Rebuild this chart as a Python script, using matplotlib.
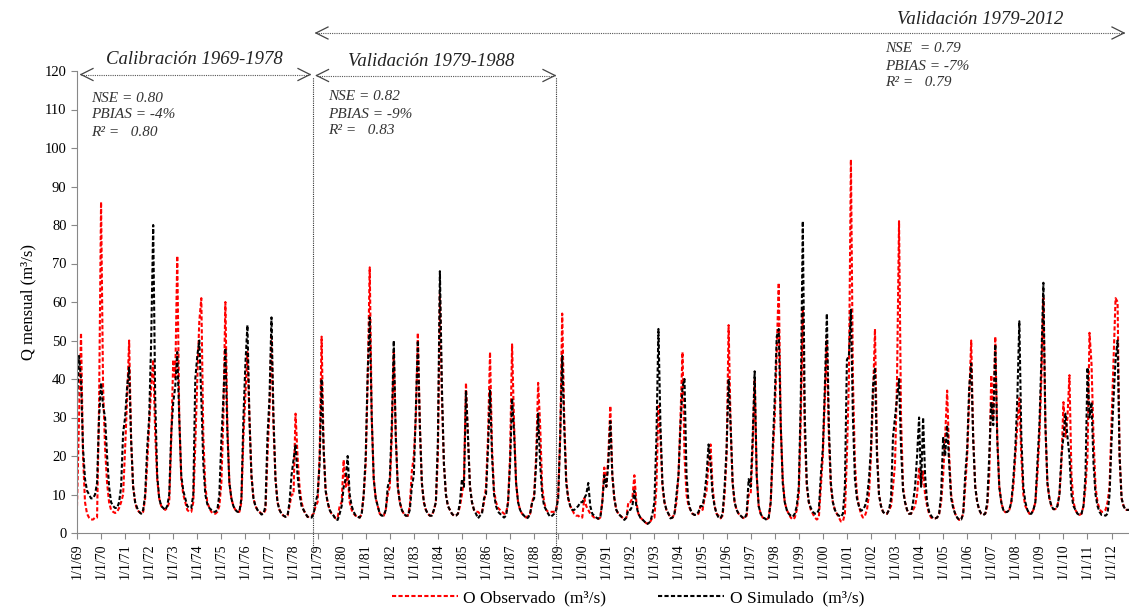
import numpy as np
import matplotlib
matplotlib.use("Agg")
import matplotlib.pyplot as plt
from matplotlib.lines import Line2D

# caudal mensual observado (m3/s), una fila por año, ene..dic
obs_1969_1978 = [
    7, 30, 52, 20, 8, 5, 4, 3.5, 3.5, 4, 4, 33,
    86, 38, 22, 13, 8, 6, 5.5, 5.2, 5.5, 6.5, 8, 10,
    22, 35, 50, 24, 12, 8, 6, 5.5, 5, 5.5, 9, 18,
    28, 38, 45, 26, 14, 9, 7, 6.5, 6, 6.5, 8, 24,
    45, 40, 72, 30, 14, 10, 8, 6, 5.5, 5.5, 8, 23,
    40, 55, 61, 25, 12, 8, 6.5, 5.5, 5, 5, 5.5, 7,
    13, 30, 60, 28, 13, 9, 7, 6, 5.5, 5.5, 8, 25,
    36, 47, 30, 15, 9, 7, 6, 5.5, 5, 5, 6, 20,
    32, 51, 28, 14, 8, 6, 5, 4.5, 4.2, 4.5, 7, 10,
    10, 31, 20, 12, 8, 6, 5, 4.2, 4.2, 4.5, 5, 7,
]
obs_1979_1988 = [
    8, 20, 51, 22, 11, 8, 6, 5, 4.5, 3.8, 4, 7,
    8, 19, 12, 15, 8, 6, 5, 4.5, 4.2, 4, 5, 10,
    18, 40, 69, 30, 14, 9, 7, 5, 4.5, 4.5, 6, 10,
    12, 25, 47, 25, 12, 8, 6, 5, 4.5, 4.5, 7, 16,
    20, 30, 52, 28, 13, 8, 6, 5, 4.5, 4.5, 6, 8,
    20, 62, 35, 18, 10, 7, 6, 5, 4.5, 4.5, 5, 7,
    10, 14, 39, 25, 12, 8, 6, 5.5, 5.5, 5, 5.5, 8,
    12, 25, 47, 22, 11, 8, 6.5, 6, 5.5, 5, 5, 8,
    20, 49, 28, 13, 8, 6, 5, 4.5, 4, 4.5, 5, 8,
    10, 20, 39, 28, 12, 8, 6, 5.5, 5.5, 5.5, 5.5, 6,
]
obs_1989_2000 = [
    10, 25, 57, 30, 14, 9, 7, 6, 5, 4.5, 4.5, 4,
    4, 9, 7, 6, 5, 4.5, 4, 3.8, 3.7, 4, 8, 17,
    12, 20, 33, 15, 9, 6, 5, 4.5, 4, 3.5, 4, 8,
    8, 9, 15, 8, 5, 4, 3.5, 3, 2.5, 2.5, 3, 4,
    4, 12, 33, 25, 12, 8, 6, 5, 4, 4, 5, 8,
    15, 30, 47, 20, 10, 7, 6, 5, 4.7, 4.7, 5, 7,
    6, 9, 11, 18, 23, 12, 7, 5, 4.5, 3.8, 4.5, 10,
    20, 54, 28, 13, 8, 6, 5, 4.5, 4, 3.8, 4.5, 10,
    10, 22, 40, 15, 7, 5, 4, 3.8, 3.5, 4, 8, 20,
    30, 47, 65, 28, 14, 8, 6, 5, 4, 3.5, 4, 6,
    10, 30, 58, 25, 12, 8, 6, 5, 4, 3.5, 4, 12,
    20, 35, 50, 25, 12, 8, 6, 5, 4, 3, 3, 5,
]
obs_2001_2012 = [
    20, 40, 97, 40, 18, 10, 7, 5, 4, 4.5, 6, 10,
    20, 35, 53, 22, 10, 7, 5.5, 5, 5, 6, 7, 12,
    18, 40, 81, 30, 12, 8, 6, 5, 5, 6, 7, 10,
    17, 12, 16, 10, 7, 5, 4, 3.8, 3.8, 4, 5, 8,
    15, 25, 37, 20, 10, 7, 5, 4, 3.4, 3.5, 5, 12,
    20, 35, 50, 25, 12, 8, 6, 5, 4.7, 5, 7, 15,
    41, 30, 51, 25, 12, 8, 6, 5.4, 5.5, 6, 8, 12,
    20, 28, 35, 20, 10, 7, 6, 5, 5, 6, 8, 15,
    25, 40, 61, 28, 13, 9, 7, 6.2, 6.2, 7, 10, 18,
    34, 25, 30, 41, 15, 8, 6, 5, 4.7, 5, 7, 12,
    20, 52, 44, 25, 12, 8, 6.2, 5.5, 5.5, 6, 8, 12,
    29, 45, 61, 60, 20, 9, 7, 6, 6, 6, 6, 6,
]

# caudal mensual simulado (m3/s)
sim_1969_1978 = [
    34, 46, 40, 22, 14, 11, 10, 9, 9, 10, 13, 30,
    39, 33, 30, 20, 12, 8, 7, 6.5, 6.5, 8, 12, 26,
    30, 38, 43, 24, 12, 8, 6.5, 5.5, 5, 6, 10, 22,
    30, 50, 80, 35, 15, 9, 7, 6.5, 6, 7, 10, 26,
    34, 38, 47, 30, 15, 11, 9, 7, 6.5, 6.5, 10, 40,
    46, 50, 35, 18, 10, 7.5, 6.5, 6, 5.5, 5.5, 6, 10,
    24, 35, 48, 26, 13, 9, 7, 6, 5.5, 5.5, 9, 30,
    44, 54, 30, 15, 9, 7, 6, 5.5, 4.8, 5, 7, 25,
    35, 56, 30, 14, 8, 6, 5, 4.5, 4.2, 4.5, 8, 15,
    19, 23, 15, 10, 7, 6, 5, 4.2, 4, 4, 5, 8,
]
sim_1979_1988 = [
    10, 18, 40, 22, 11, 8, 6, 5, 4.5, 3.5, 3.4, 5,
    7, 12, 14, 20, 10, 7, 5.5, 4.5, 4.2, 4, 5, 10,
    20, 42, 56, 30, 14, 9, 7, 5, 4.5, 4.5, 6, 12,
    14, 28, 50, 25, 12, 8, 6, 5, 4.5, 4.5, 6, 12,
    15, 32, 50, 28, 13, 8, 6, 5, 4.5, 4.5, 6, 8,
    24, 68, 38, 18, 10, 7, 6, 5, 4.5, 4.5, 5, 8,
    14, 12, 37, 25, 12, 8, 6, 5, 3.8, 4.5, 5, 9,
    10, 22, 37, 20, 10, 7, 5.5, 5, 4.5, 4, 4.5, 8,
    18, 35, 26, 13, 8, 6, 5, 4.5, 3.8, 4, 5, 8,
    9, 18, 31, 18, 10, 7, 6, 5, 4.2, 4.5, 5, 6,
]
sim_1989_2000 = [
    9, 25, 46, 28, 13, 9, 7, 6, 6, 6.5, 7, 8,
    8, 9, 10, 13, 7, 5, 4.5, 4, 3.7, 4, 8, 15,
    12, 18, 29, 15, 9, 6, 5, 4.5, 4, 3.4, 4, 6,
    6, 7, 11, 7, 5, 4, 3.5, 3, 2.3, 2.5, 3, 5,
    8, 25, 53, 28, 13, 8, 6, 5, 3.8, 4, 5, 10,
    15, 28, 38, 40, 15, 8, 6, 5, 4.7, 4.7, 5.5, 7,
    7, 10, 15, 23, 18, 10, 7, 5, 4, 3.8, 5, 12,
    22, 40, 28, 13, 8, 6, 5, 4.5, 4, 3.8, 5, 14,
    12, 25, 42, 15, 7, 5, 4, 3.8, 3.4, 4, 8, 22,
    35, 51, 53, 28, 13, 8, 6, 5, 4.5, 4.2, 5, 7,
    12, 35, 81, 30, 13, 8, 6.5, 5.5, 5, 5, 6, 15,
    22, 38, 57, 28, 13, 8, 6, 5, 4.5, 4.2, 5, 12,
]
sim_2001_2012 = [
    45, 46, 58, 30, 14, 9, 7, 5.8, 6, 7, 9, 14,
    22, 38, 43, 20, 10, 7, 5.5, 5, 5, 6, 9, 25,
    30, 35, 40, 22, 11, 8, 6, 5, 5, 8, 12, 20,
    30, 12, 30, 15, 8, 5.5, 4.5, 3.8, 3.8, 4, 5, 10,
    25, 20, 28, 18, 9, 6.5, 5, 4, 3.4, 3.5, 5, 15,
    22, 38, 44, 24, 12, 8, 6, 5, 4.7, 5, 8, 20,
    34, 28, 49, 24, 12, 8, 6, 5.4, 5.5, 6, 8, 14,
    22, 35, 55, 25, 12, 8, 6, 5, 5, 6, 8, 18,
    28, 45, 65, 28, 13, 9, 7, 6.2, 6.2, 7, 10, 20,
    25, 31, 25, 20, 10, 7, 6, 5, 4.7, 5, 7, 15,
    43, 30, 34, 18, 10, 7, 5.5, 4.7, 4.7, 4.5, 5, 10,
    24, 35, 45, 50, 20, 9, 7, 6, 6, 6, 6, 6,
]

years = list(range(1969, 2013))
tick_labels = ["1/1/%02d" % (y % 100) for y in years]

periods = ["Calibración 1969-1978", "Validación 1979-1988", "Validación 1979-2012"]
stats = [("0.80", "-4%", "0.80"), ("0.82", "-9%", "0.83"), ("0.79", "-7%", "0.79")]

W, H = 1129, 609
SERIF = "Liberation Serif"


def fxy(x, y):
    # pixel de la imagen -> fraccion de figura
    return x / W, 1 - y / H


def arrow(fig, x0, x1, y):
    a, b = fxy(x0, y), fxy(x1, y)
    fig.add_artist(Line2D([a[0], b[0]], [a[1], b[1]], color="#555555",
                          lw=0.8, ls=(0, (1, 1))))
    for tip, s in ((x0, 1), (x1, -1)):
        for dy in (-6, 6):
            p, q = fxy(tip, y), fxy(tip + s * 12, y + dy)
            fig.add_artist(Line2D([p[0], q[0]], [p[1], q[1]],
                                  color="#444444", lw=0.9))


def main():
    obs = np.array(obs_1969_1978 + obs_1979_1988 + obs_1989_2000 + obs_2001_2012)
    sim = np.array(sim_1969_1978 + sim_1979_1988 + sim_1989_2000 + sim_2001_2012)
    t = np.arange(len(obs))

    fig = plt.figure(figsize=(W / 100, H / 100), dpi=100)
    ax = fig.add_axes([77 / W, 76 / H, (W - 77) / W, 462 / H])

    l1, = ax.plot(t, obs, color="red", lw=1.5, ls=(0, (2.0, 1.1)))
    l2, = ax.plot(t, sim, color="black", lw=1.5, ls=(0, (2.0, 1.1)))

    ax.set_xlim(0, 524.7)
    ax.set_ylim(0, 120)
    ax.set_yticks(range(0, 121, 10))
    ax.set_xticks(range(0, len(obs), 12))
    ax.set_xticklabels(tick_labels, rotation=90, fontsize=10, family=SERIF)
    for lab in ax.get_yticklabels():
        lab.set_family(SERIF)
        lab.set_fontsize(10.5)
    ax.tick_params(colors="#888888", labelcolor="black", length=4, width=0.8)
    for s in ("top", "right"):
        ax.spines[s].set_visible(False)
    for s in ("left", "bottom"):
        ax.spines[s].set_color("#888888")
    ax.set_ylabel("Q mensual (m³/s)", family=SERIF, fontsize=12, labelpad=6)

    # limites de periodos
    for xv in ((313 - 77) / 2.005, (556.5 - 77) / 2.005):
        ax.plot([xv, xv], [-4.5, 118.5], color="#333333", lw=0.8,
                ls=(0, (1, 1)), clip_on=False)

    arrow(fig, 81, 310, 74.5)
    arrow(fig, 316.5, 555, 75.5)
    arrow(fig, 316, 1124, 33)

    for txt, (x, y) in zip(periods, [(194, 60), (431, 61), (980, 20)]):
        fig.text(*fxy(x, y), txt, ha="center", va="center", family=SERIF,
                 style="italic", fontsize=13.5, color="#222222")

    for (nse, pbias, r2), (x, y), sp in zip(stats, [(91, 98), (328, 97), (885, 49)],
                                            ["", "", " "]):
        lines = ["NSE %s= %s" % (sp, nse), "PBIAS = %s" % pbias, "R² =   %s" % r2]
        for i, s in enumerate(lines):
            fig.text(*fxy(x, y + 17 * i), s, ha="left", va="center",
                     family=SERIF, style="italic", fontsize=11, color="#333333")

    fig.legend([l1, l2], ["O Observado  (m³/s)", "O Simulado  (m³/s)"],
               loc="center", bbox_to_anchor=(628 / W, 1 - 598 / H), ncol=2,
               frameon=False, handlelength=3.8, columnspacing=3.0,
               handletextpad=0.3, prop={"family": SERIF, "size": 12.5})

    fig.savefig("out.png", dpi=100)


if __name__ == "__main__":
    main()
